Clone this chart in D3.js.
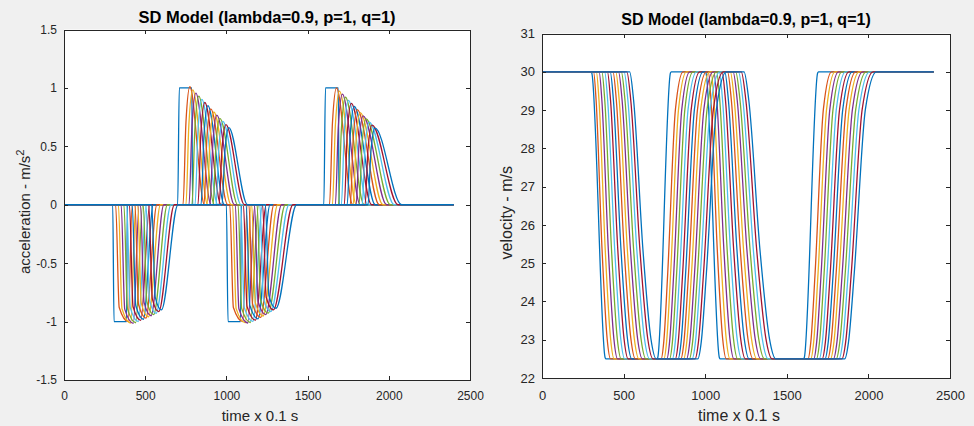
<!DOCTYPE html>
<html><head><meta charset="utf-8">
<script src="https://cdn.jsdelivr.net/npm/d3@7"></script>
<style>
body{margin:0;background:#f0f0f0;}
svg{display:block;font-family:"Liberation Sans",Arial,Helvetica,sans-serif;}
</style>
</head><body>
<svg id="c" width="974" height="426"></svg>
<script>
// ---------- data ----------
const colors = ["#0072BD","#D95319","#EDB120","#7E2F8E","#77AC30","#4DBEEE","#A2142F"];
const xTicks = [0,500,1000,1500,2000,2500];
const accTicks = [-1.5,-1,-0.5,0,0.5,1,1.5];
const velTicks = [22,23,24,25,26,27,28,29,30,31];
const tEnd = 2400;

// leader (vehicle 1) key points
const leadAccT = [0,300,308,385,390,700,710,787,792,1000,1010,1087,1092,1600,1610,1689,1694,2400];
const leadAccV = [0,0,-1,-1,0,0,1,1,0,0,-1,-1,0,0,1,1,0,0];
const leadVelT = [0,300,305,387,392,704,709,787,792,1000,1005,1087,1092,1602,1607,1689,1694,2400];
const leadVelV = [30,30,29.97,22.53,22.5,22.5,22.53,29.97,30,30,29.97,22.53,22.5,22.5,22.53,29.97,30,30];

// followers 2..15 : acceleration, first braking pulse
const aStart = [318,335,352,369,386,403,420,437,454,471,488,505,522,540];
const aMinT  = [395,411,427,442,458,473,489,505,520,536,552,567,583,600];
const aMinV  = [-1.0,-1.012,-1.015,-1.01,-1.0,-0.99,-0.98,-0.97,-0.96,-0.95,-0.94,-0.93,-0.915,-0.9];
const aEnd   = [420,442,463,485,507,528,550,572,594,615,637,659,680,702];
// first accelerating pulse
const bRise  = [733,751,770,788,807,825,844,862,881,899,918,936,955,973];
const bPeakT = [775,793,812,830,849,867,886,904,923,941,960,978,997,1015];
const bPeakV = [1.01,0.983,0.956,0.929,0.902,0.875,0.848,0.821,0.794,0.767,0.74,0.713,0.686,0.66];
const bEnd   = [865,885,906,926,947,967,988,1008,1029,1049,1070,1090,1111,1130];
// second braking pulse
const cStart = [1021,1038,1055,1072,1088,1105,1122,1139,1156,1173,1189,1206,1223,1240];
const cMinT  = [1101,1117,1132,1148,1163,1179,1195,1211,1226,1242,1257,1273,1289,1305];
const cMinV  = [-1.0,-1.01,-1.012,-1.008,-0.998,-0.988,-0.976,-0.964,-0.952,-0.94,-0.928,-0.914,-0.9,-0.886];
const cEnd   = [1129,1152,1176,1199,1223,1246,1269,1293,1316,1340,1363,1386,1410,1433];
// second accelerating pulse
const dRise  = [1635,1653,1671,1690,1708,1726,1744,1763,1781,1799,1817,1836,1854,1872];
const dPeakT = [1678,1696,1714,1733,1751,1769,1787,1806,1824,1842,1860,1879,1897,1915];
const dPeakV = [1.0,0.973,0.947,0.92,0.894,0.867,0.841,0.814,0.788,0.761,0.735,0.708,0.682,0.655];
const dEnd   = [1778,1801,1824,1848,1871,1894,1917,1941,1964,1987,2010,2034,2057,2079];

// followers : velocity transitions (start, end)
const vDrop1S = [316,333,350,367,384,401,418,435,452,469,486,503,520,537];
const vDrop1E = [420,442,463,485,507,528,550,572,594,615,637,659,680,700];
const vRise1S = [730,747,765,782,799,817,834,851,868,886,903,920,938,955];
const vRise1E = [865,885,906,926,947,967,988,1008,1029,1049,1070,1090,1111,1130];
const vDrop2S = [1019,1036,1053,1070,1086,1103,1120,1137,1154,1171,1187,1204,1221,1238];
const vDrop2E = [1129,1152,1176,1199,1223,1246,1269,1293,1316,1340,1363,1386,1410,1433];
const vRise2S = [1630,1647,1665,1682,1699,1717,1734,1751,1768,1786,1803,1820,1838,1855];
const vRise2E = [1775,1796,1817,1838,1860,1881,1902,1923,1944,1965,1987,2008,2029,2050];
const vHigh = 30, vLow = 22.5;

// ---------- shapes ----------
const dropShape = [[0,0],[0.15,0.1],[0.5,0.62],[0.8,0.93],[1,1]];
const riseShape = [[0,0],[0.12,0.06],[0.3,0.3],[0.65,0.87],[1,1]];

function zip(T,V){ return T.map((t,k)=>[t,V[k]]); }
function brake(s,mt,mv,e){ return [[s,0],[s+22,0.88*mv],[mt,mv],[e,0]]; }
function push(r,pt,pv,e){ return [[r,0],[r+18,0.7*pv],[pt,pv],[e,0]]; }
function trans(s,e,a,b,shape){ return shape.map(p=>[s+p[0]*(e-s), a+p[1]*(b-a)]); }

const accSeries = [zip(leadAccT,leadAccV)];
const velSeries = [zip(leadVelT,leadVelV)];
for(let i=0;i<aStart.length;i++){
  accSeries.push([[0,0],
    ...brake(aStart[i],aMinT[i],aMinV[i],aEnd[i]),
    ...push(bRise[i],bPeakT[i],bPeakV[i],bEnd[i]),
    ...brake(cStart[i],cMinT[i],cMinV[i],cEnd[i]),
    ...push(dRise[i],dPeakT[i],dPeakV[i],dEnd[i]),
    [tEnd,0]]);
  velSeries.push([[0,vHigh],
    ...trans(vDrop1S[i],vDrop1E[i],vHigh,vLow,dropShape),
    ...trans(vRise1S[i],vRise1E[i],vLow,vHigh,riseShape),
    ...trans(vDrop2S[i],vDrop2E[i],vHigh,vLow,dropShape),
    ...trans(vRise2S[i],vRise2E[i],vLow,vHigh,riseShape),
    [tEnd,vHigh]]);
}

// ---------- drawing ----------
const svg = d3.select("#c");
svg.append("rect").attr("width",974).attr("height",426).attr("fill","#f0f0f0");
const ink = "#262626";
const fmt = d => String(d);

function panel(o){
  const g = svg.append("g");
  const x = d3.scaleLinear().domain([0,2500]).range([o.L,o.R]);
  const y = d3.scaleLinear().domain(o.yDom).range([o.B,o.T]);
  g.append("rect").attr("x",o.L).attr("y",o.T).attr("width",o.R-o.L).attr("height",o.B-o.T).attr("fill","#fff");
  const cid = "clip"+o.id;
  svg.append("clipPath").attr("id",cid).append("rect")
    .attr("x",o.L).attr("y",o.T).attr("width",o.R-o.L).attr("height",o.B-o.T);
  const line = d3.line().x(d=>x(d[0])).y(d=>y(d[1])).curve(d3.curveMonotoneX);
  const lg = g.append("g").attr("clip-path",`url(#${cid})`);
  o.series.forEach((pts,i)=>{
    lg.append("path").attr("d",line(pts)).attr("fill","none")
      .attr("stroke",colors[i%7]).attr("stroke-width",1.3).attr("stroke-linejoin","round");
  });
  const fs = o.fs;
  const axB = g.append("g").attr("transform",`translate(0,${o.B})`)
    .call(d3.axisBottom(x).tickValues(xTicks).tickSizeInner(-4).tickSizeOuter(0).tickPadding(o.padX).tickFormat(fmt));
  const axT = g.append("g").attr("transform",`translate(0,${o.T})`)
    .call(d3.axisTop(x).tickValues(xTicks).tickSizeInner(-4).tickSizeOuter(0).tickFormat(""));
  const axL = g.append("g").attr("transform",`translate(${o.L},0)`)
    .call(d3.axisLeft(y).tickValues(o.yTicks).tickSizeInner(-4).tickSizeOuter(0).tickPadding(7).tickFormat(fmt));
  const axR = g.append("g").attr("transform",`translate(${o.R},0)`)
    .call(d3.axisRight(y).tickValues(o.yTicks).tickSizeInner(-4).tickSizeOuter(0).tickFormat(""));
  [axB,axT,axL,axR].forEach(a=>{
    a.select(".domain").attr("stroke",ink).attr("stroke-width",1).attr("shape-rendering","crispEdges");
    a.selectAll(".tick line").attr("stroke",ink).attr("shape-rendering","crispEdges");
    a.selectAll("text").attr("fill",ink).attr("font-size",fs).attr("font-family","Liberation Sans, Arial, sans-serif");
  });
  g.append("text").attr("x",(o.L+o.R)/2).attr("y",o.titleY).attr("text-anchor","middle")
    .attr("font-weight","bold").attr("font-size",o.tfs).attr("fill","#000").text(o.title);
  g.append("text").attr("x",(o.L+o.R)/2-7).attr("y",o.xlabY).attr("text-anchor","middle")
    .attr("font-size",o.lfs).attr("fill",ink).text("time x 0.1 s");
  const yl = g.append("text").attr("transform",`translate(${o.ylabX},${(o.T+o.B)/2+7}) rotate(-90)`)
    .attr("text-anchor","middle").attr("font-size",o.lfs).attr("fill",ink);
  yl.append("tspan").text(o.ylab);
  if(o.sup){ yl.append("tspan").attr("dy",-6).attr("font-size",o.lfs*0.75).text(o.sup); }
}

panel({id:"a",L:64,R:470,T:29.5,B:380,yDom:[-1.5,1.5],yTicks:accTicks,series:accSeries,
  fs:12,padX:11.5,tfs:16.5,lfs:15,titleY:22.5,xlabY:421,ylabX:30,
  title:"SD Model (lambda=0.9, p=1, q=1)",ylab:"acceleration - m/s",sup:"2"});
panel({id:"v",L:542,R:950,T:33.5,B:378,yDom:[22,31],yTicks:velTicks,series:velSeries,
  fs:13,padX:12.5,tfs:16,lfs:16,titleY:24.5,xlabY:421,ylabX:512,
  title:"SD Model (lambda=0.9, p=1, q=1)",ylab:"velocity - m/s"});
</script>
</body></html>
